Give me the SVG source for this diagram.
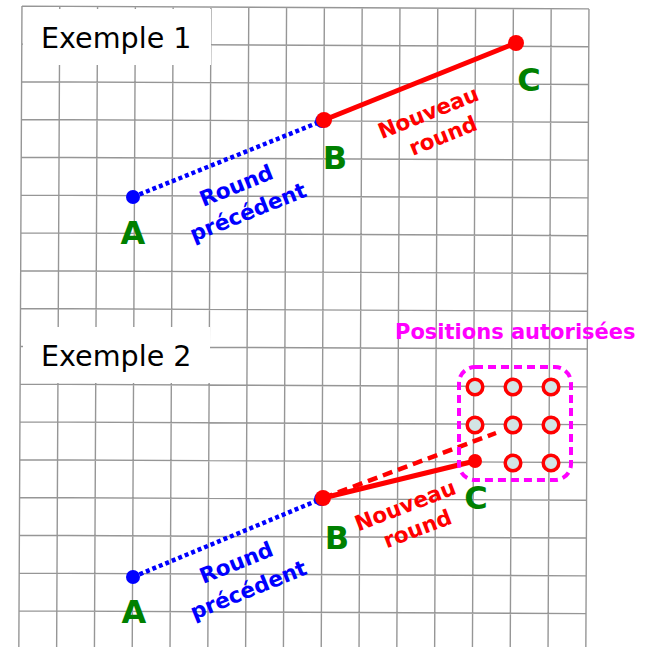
<svg xmlns="http://www.w3.org/2000/svg" width="648" height="647" viewBox="0 0 648 647">
<style>
.grid{fill:none;stroke:#969696;stroke-width:1.4}
.box{fill:#fff;stroke:none}
.title{font-family:"DejaVu Sans",sans-serif;font-size:28.6px;fill:#000}
.lbl{font-family:"DejaVu Sans",sans-serif;font-weight:bold;font-size:32px;fill:#008000;text-anchor:middle}
.red{font-family:"DejaVu Sans",sans-serif;font-weight:bold;font-size:21.5px;fill:#ff0000;text-anchor:middle}
.blue{font-family:"DejaVu Sans",sans-serif;font-weight:bold;font-size:21.5px;fill:#0000ff;text-anchor:middle}
.mag{font-family:"DejaVu Sans",sans-serif;font-weight:bold;font-size:21px;fill:#ff00ff}
.dotline{stroke:#0000ff;stroke-width:4.5;stroke-dasharray:4 3;fill:none}
.solid{stroke:#ff0000;stroke-width:5;fill:none}
.dash{stroke:#ff0000;stroke-width:4.5;stroke-dasharray:10 6;fill:none}
.pb{fill:#0000ff}
.pr{fill:#ff0000}
.pos{fill:#d3e5e5;stroke:#ff0000;stroke-width:3.5}
</style>
<rect width="648" height="647" fill="#fff"/>
<g id="grid" transform="rotate(0.28)">
<path class="grid" d="M22 6V660M59.8 6V660M97.6 6V660M135.4 6V660M173.2 6V660M211 6V660M248.8 6V660M286.6 6V660M324.4 6V660M362.2 6V660M400 6V660M437.8 6V660M475.6 6V660M513.4 6V660M551.2 6V660M589 6V660M22 6H589M22 43.8H589M22 81.6H589M22 119.4H589M22 157.2H589M22 195H589M22 232.8H589M22 270.6H589M22 308.4H589M22 346.2H589M22 384H589M22 421.8H589M22 459.6H589M22 497.4H589M22 535.2H589M22 573H589M22 610.8H589"/>
</g>
<g id="title1">
<rect class="box" x="23" y="9" width="188" height="56"/>
<text class="title" x="41" y="48">Exemple 1</text>
</g>
<g id="title2">
<rect class="box" x="23" y="327" width="187" height="56"/>
<text class="title" x="41" y="366">Exemple 2</text>
</g>
<g id="connectors">
<line class="dotline" x1="133" y1="197" x2="322" y2="121"/>
<line class="solid" x1="324" y1="120" x2="516" y2="43"/>
<line class="dotline" x1="133" y1="577" x2="321" y2="499"/>
<line class="dash" x1="323" y1="498" x2="496" y2="433"/>
<line class="solid" x1="323" y1="498" x2="475" y2="461"/>
</g>
<g id="zone">
<rect x="459" y="367" width="112" height="113" rx="16" fill="none" stroke="#ff00ff" stroke-width="4" stroke-dasharray="8 5"/>
<text class="mag" x="395" y="339">Positions autorisées</text>
</g>
<g id="positions">
<circle class="pos" cx="475" cy="387" r="7.8"/>
<circle class="pos" cx="513" cy="387" r="7.8"/>
<circle class="pos" cx="551" cy="387" r="7.8"/>
<circle class="pos" cx="475" cy="425" r="7.8"/>
<circle class="pos" cx="513" cy="425" r="7.8"/>
<circle class="pos" cx="551" cy="425" r="7.8"/>
<circle class="pos" cx="513" cy="463" r="7.8"/>
<circle class="pos" cx="551" cy="463" r="7.8"/>
</g>
<g id="A1">
<circle class="pb" cx="133" cy="197" r="7"/>
<text class="lbl" x="133" y="244">A</text>
</g>
<g id="B1">
<circle class="pb" cx="322" cy="121" r="7"/>
<circle class="pr" cx="324" cy="120" r="8"/>
<text class="lbl" x="335" y="169">B</text>
</g>
<g id="C1">
<circle class="pr" cx="516" cy="43" r="8"/>
<text class="lbl" x="529" y="91">C</text>
</g>
<g id="A2">
<circle class="pb" cx="133" cy="577" r="7"/>
<text class="lbl" x="134" y="623">A</text>
</g>
<g id="B2">
<circle class="pb" cx="321" cy="499" r="7"/>
<circle class="pr" cx="323" cy="498" r="8"/>
<text class="lbl" x="337" y="549">B</text>
</g>
<g id="C2">
<circle class="pr" cx="475" cy="461" r="7"/>
<text class="lbl" x="476" y="509">C</text>
</g>
<g id="label-round1">
<text class="red" transform="translate(428,112) rotate(-22)"><tspan x="0" y="8">Nouveau</tspan><tspan x="5" y="35">round</tspan></text>
</g>
<g id="label-prev1">
<text class="blue" transform="translate(236,185) rotate(-22)"><tspan x="0" y="8">Round</tspan><tspan x="1" y="37">précédent</tspan></text>
</g>
<g id="label-round2">
<text class="red" transform="translate(405,505) rotate(-21)"><tspan x="0" y="8">Nouveau</tspan><tspan x="3" y="34">round</tspan></text>
</g>
<g id="label-prev2">
<text class="blue" transform="translate(236,562) rotate(-22)"><tspan x="0" y="8">Round</tspan><tspan x="1" y="38">précédent</tspan></text>
</g>
</svg>
